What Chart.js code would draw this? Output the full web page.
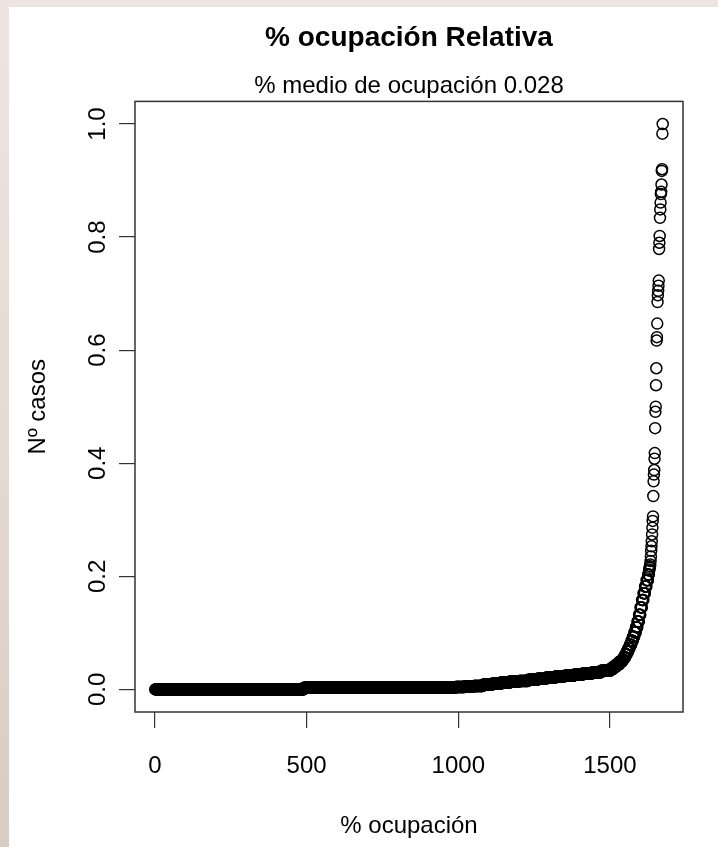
<!DOCTYPE html>
<html>
<head>
<meta charset="utf-8">
<title>% ocupación Relativa</title>
<script src="https://cdn.jsdelivr.net/npm/chart.js@4.4.1/dist/chart.umd.min.js"></script>
<style>
    html, body { margin: 0; padding: 0; }
    body {
        width: 718px; height: 847px; position: relative; overflow: hidden;
        background: linear-gradient(180deg, #eee5e0 0%, #e5dbd5 50%, #d6ccc3 100%);
    }
    #panel { position: absolute; left: 9px; top: 7px; right: 0; bottom: 0; background: #fff; }
    #grafico { position: absolute; left: 0; top: 0; }
</style>
</head>
<body>
<div id="panel"></div>
<canvas id="grafico" width="718" height="847"></canvas>
<script>
/**
 * % ocupación Relativa
 * Casos ordenados de menor a mayor
 */

// Tramos de casos seguidos con el mismo valor
const tramosCasos = [
    490, 470,
    30, 30, 30, 30, 30, 30, 30, 30, 30, 30, 30, 30, 30, 30, 30, 30, 30, 30,
    10, 10, 10, 10,
    5, 5, 5, 5, 5, 5, 5, 5, 5, 5, 5, 5, 5, 5, 5, 5, 5,
    3
];
const tramosValor = [
    0.000, 0.003,
    0.003, 0.004, 0.005, 0.006, 0.008, 0.010, 0.012, 0.014, 0.015, 0.017,
    0.019, 0.021, 0.023, 0.024, 0.026, 0.028, 0.030, 0.033,
    0.036, 0.040, 0.044, 0.049,
    0.053, 0.057, 0.062, 0.067, 0.073, 0.079, 0.086, 0.093, 0.101, 0.110,
    0.120, 0.132, 0.145, 0.158, 0.170, 0.182, 0.193,
    0.203
];

// Últimos casos, uno a uno
const colaValores = [
    0.210, 0.212, 0.215, 0.218, 0.221, 0.227, 0.235, 0.245, 0.253, 0.262,
    0.274, 0.286, 0.298, 0.306, 0.342, 0.368, 0.380, 0.388, 0.408, 0.418,
    0.462, 0.491, 0.500, 0.538, 0.568, 0.617, 0.623, 0.647, 0.685, 0.697,
    0.705, 0.714, 0.723, 0.779, 0.790, 0.802, 0.834, 0.849, 0.861, 0.876,
    0.880, 0.893, 0.917, 0.920, 0.983, 1.000
];

const ticksX = [0, 500, 1000, 1500];
const ticksY = [0, 0.2, 0.4, 0.6, 0.8, 1.0];

(() => {
    const fuente = "'Liberation Sans', Arial, Helvetica, sans-serif";
    Chart.defaults.font.family = fuente;
    Chart.defaults.color = '#000';

    // Expandir tramos a puntos
    const valores = [];
    tramosCasos.forEach((n, i) => {
        for (let k = 0; k < n; k++) valores.push(tramosValor[i]);
    });
    colaValores.forEach(v => valores.push(v));
    const datos = valores.map((v, i) => ({ x: i + 1, y: v }));

    // Rango con 4% de margen, como en R
    const n = datos.length;
    const yMin = Math.min(...valores), yMax = Math.max(...valores);
    const xMin = 1 - 0.04 * (n - 1), xMax = n + 0.04 * (n - 1);
    const yLo = yMin - 0.04 * (yMax - yMin), yHi = yMax + 0.04 * (yMax - yMin);

    // Caja alrededor del área de dibujo
    const marco = {
        id: 'marco',
        afterDraw(chart) {
            const { ctx, chartArea: a } = chart;
            ctx.save();
            ctx.strokeStyle = '#333';
            ctx.lineWidth = 1.5;
            ctx.strokeRect(a.left, a.top, a.right - a.left, a.bottom - a.top);
            ctx.restore();
        }
    };

    new Chart(document.getElementById('grafico'), {
        type: 'scatter',
        data: {
            datasets: [{
                label: 'casos',
                data: datos,
                pointStyle: 'circle',
                pointRadius: 5.5,
                borderWidth: 1.5,
                borderColor: '#000',
                backgroundColor: 'rgba(0,0,0,0)'
            }]
        },
        options: {
            responsive: false,
            animation: false,
            events: [],
            layout: { padding: { left: 0, right: 35, top: 0, bottom: 0 } },
            scales: {
                x: {
                    type: 'linear',
                    min: xMin,
                    max: xMax,
                    afterBuildTicks: s => { s.ticks = ticksX.map(v => ({ value: v })); },
                    afterFit: s => { s.height = 135; },
                    border: { display: false },
                    grid: { drawOnChartArea: false, drawTicks: true, tickLength: 16, color: '#333', lineWidth: 1.2 },
                    ticks: {
                        font: { size: 24 },
                        padding: 24,
                        maxRotation: 0,
                        autoSkip: false,
                        callback: v => String(v)
                    },
                    title: { display: true, text: '% ocupación', font: { size: 24 }, padding: { top: 0, bottom: 6 } }
                },
                y: {
                    type: 'linear',
                    min: yLo,
                    max: yHi,
                    afterBuildTicks: s => { s.ticks = ticksY.map(v => ({ value: v })); },
                    afterFit: s => { s.width = 135; },
                    border: { display: false },
                    grid: { drawOnChartArea: false, drawTicks: true, tickLength: 16, color: '#333', lineWidth: 1.2 },
                    ticks: {
                        font: { size: 24 },
                        padding: 4,
                        minRotation: 90,
                        maxRotation: 90,
                        crossAlign: 'center',
                        autoSkip: false,
                        callback: v => Number(v).toFixed(1)
                    },
                    title: { display: true, text: 'Nº casos', font: { size: 24 }, padding: { top: 24, bottom: 0 } }
                }
            },
            plugins: {
                legend: { display: false },
                tooltip: { enabled: false },
                title: {
                    display: true,
                    text: '% ocupación Relativa',
                    fullSize: false,
                    font: { size: 28, weight: 'bold' },
                    padding: { top: 21, bottom: 17 }
                },
                subtitle: {
                    display: true,
                    text: '% medio de ocupación 0.028',
                    fullSize: false,
                    color: '#000',
                    font: { size: 24, weight: 'normal' },
                    padding: { top: 0, bottom: 1 }
                }
            }
        },
        plugins: [marco]
    });
})();
</script>
</body>
</html>
